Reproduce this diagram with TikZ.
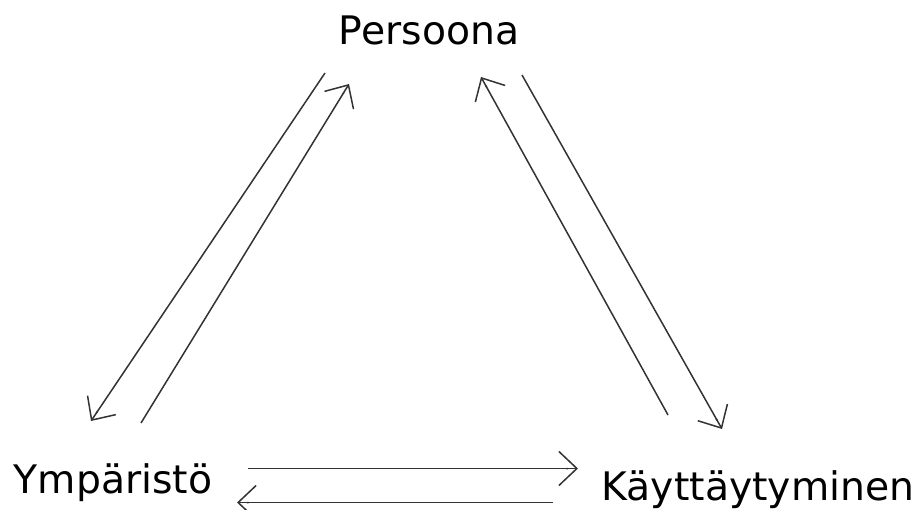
\documentclass[tikz,border=0pt]{standalone}
\usepackage{fontspec}
\setmainfont{DejaVu Sans}
\usetikzlibrary{arrows.meta,positioning}

\begin{document}
\begin{tikzpicture}[
    x=1pt, y=-1pt,
    term/.style={anchor=base, inner sep=0pt, font=\fontsize{39.3}{47}\selectfont},
    link/.style={line width=1.5pt, draw=black!80,
        -{Butt Cap[sep=-10pt] Straight Barb[length=18pt,width=34pt]}}
]
\useasboundingbox (0,0) rectangle (920,510);

\node[term] (persoona) at (429,45) {Persoona};
\node[term] (ymparisto) at (113,493) {Ympäristö};
\node[term] (kaytos) at (758,500) {Käyttäytyminen};

% ends of the connectors
\coordinate (py1) at (325,73);  \coordinate (py2) at (91,421);
\coordinate (yp1) at (141,423); \coordinate (yp2) at (349,84);
\coordinate (kp1) at (668,415); \coordinate (kp2) at (481,77);
\coordinate (pk1) at (522,75);  \coordinate (pk2) at (722,429);
\coordinate (yk1) at (248,468.5); \coordinate (yk2) at (578,468.5);
\coordinate (ky1) at (553,502.5); \coordinate (ky2) at (237,502.5);

\draw[link] (py1) -- (py2);
\draw[link] (yp1) -- (yp2);
\draw[link] (kp1) -- (kp2);
\draw[link] (pk1) -- (pk2);
\draw[link] (yk1) -- (yk2);
\draw[link] (ky1) -- (ky2);

\end{tikzpicture}
\end{document}
